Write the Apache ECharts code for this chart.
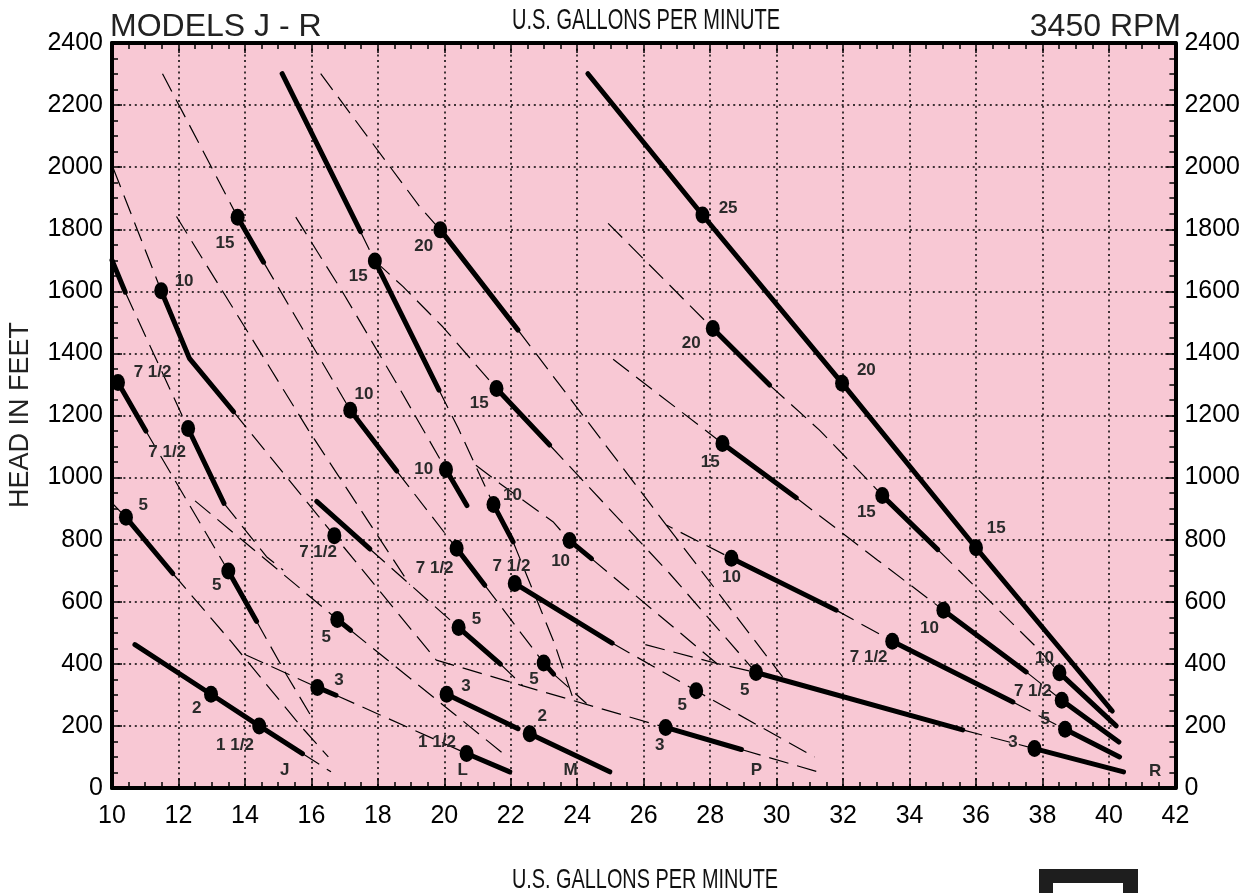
<!DOCTYPE html>
<html>
<head>
<meta charset="utf-8">
<script src="https://cdn.jsdelivr.net/npm/echarts@6/dist/echarts.min.js"></script>
<style>html,body{margin:0;padding:0;background:#fff;}#c{width:1243px;height:893px;}</style>
</head>
<body>
<div id="c"></div>
<script>
// ---- data ----
const xTicks = [10, 42, 2];        // min, max, step (U.S. gallons per minute)
const yTicks = [0, 2400, 200];     // min, max, step (head in feet)

// thick solid operating-range segments (polylines of [gpm, feet])
const thickLines = [
  [[10,1700],[10.4,1597]],
  [[13.78,1839],[14.56,1694]],
  [[11.48,1602],[12.33,1384],[13.66,1212]],
  [[10.18,1306],[11.02,1150]],
  [[12.29,1158],[13.37,917]],
  [[10.42,872],[11.83,691]],
  [[13.5,699],[14.35,537]],
  [[10.69,462],[12.98,302],[14.43,200],[15.73,111]],
  [[15.12,2301],[17.48,1792]],
  [[17.91,1698],[19.84,1282]],
  [[17.17,1217],[18.57,1021]],
  [[16.16,923],[17.76,770]],
  [[16.78,543],[17.18,508]],
  [[16.18,324],[16.74,299]],
  [[19.88,1798],[22.22,1475]],
  [[21.57,1287],[23.17,1105]],
  [[20.05,1026],[20.68,910]],
  [[21.48,913],[22.07,793]],
  [[23.77,797],[24.43,739]],
  [[20.37,772],[21.22,653]],
  [[22.12,659],[25.05,467]],
  [[20.43,517],[21.69,399]],
  [[22.99,403],[23.29,367]],
  [[20.07,302],[22.22,191]],
  [[22.57,175],[24.98,52]],
  [[20.67,111],[21.97,52]],
  [[24.32,2301],[27.77,1846],[31.97,1304],[36.0,774],[40.1,248]],
  [[28.08,1480],[29.79,1298]],
  [[28.37,1110],[30.59,935]],
  [[28.64,740],[31.79,573]],
  [[29.38,372],[35.6,187]],
  [[26.66,195],[28.94,124]],
  [[33.18,942],[34.85,768]],
  [[35.02,573],[37.51,374]],
  [[33.48,473],[37.11,277]],
  [[38.51,371],[40.22,200]],
  [[38.58,283],[40.3,148]],
  [[38.68,189],[40.32,100]],
  [[37.76,127],[40.44,52]]
];

// thin dashed curve extensions
const dashedLines = [
  [[10.04,1996],[11.48,1602]],
  [[11.52,2301],[13.78,1839]],
  [[11.94,1841],[15.91,1153],[18.96,655]],
  [[14.56,1694],[17.17,1217]],
  [[13.66,1212],[16.69,813],[19.76,412],[22.37,329],[26.66,195]],
  [[11.02,1150],[13.5,699]],
  [[10.4,1597],[12.29,1158]],
  [[12.5,925],[14.41,755],[16.78,543]],
  [[13.37,917],[14.65,745],[15.15,702]],
  [[11.83,691],[13.55,476],[15.7,197],[16.51,100]],
  [[14.35,537],[15.25,365],[16.0,230]],
  [[14.0,430],[16.18,324]],
  [[16.74,299],[20.67,111]],
  [[15.73,111],[16.59,52]],
  [[17.76,770],[20.43,517]],
  [[17.18,508],[21.9,100]],
  [[16.28,2301],[19.26,1873],[19.88,1798]],
  [[17.48,1792],[17.91,1698]],
  [[15.53,1839],[16.96,1594],[18.62,1293],[20.05,1026]],
  [[17.91,1698],[18.76,1615],[19.96,1485],[21.57,1287]],
  [[19.84,1282],[20.42,1159],[21.48,913]],
  [[18.57,1021],[20.37,772]],
  [[20.95,1040],[21.67,981],[23.27,858],[23.77,797]],
  [[22.22,1475],[26.68,847],[28.64,740]],
  [[23.17,1105],[26.78,691],[29.38,372]],
  [[26.68,847],[30.18,358]],
  [[24.93,1819],[28.08,1480]],
  [[25.08,1381],[28.37,1110]],
  [[29.79,1298],[31.29,1153],[32.8,986],[33.18,942]],
  [[30.59,935],[33.04,734],[35.02,573]],
  [[34.85,768],[37.86,449],[38.51,371]],
  [[37.51,374],[38.58,283]],
  [[37.11,277],[38.68,189]],
  [[35.6,187],[37.76,127]],
  [[31.79,573],[33.48,473]],
  [[25.05,467],[27.58,313],[31.14,100]],
  [[28.94,124],[31.24,52]],
  [[22.07,793],[23.3,470],[23.87,290]],
  [[21.22,653],[22.99,403]],
  [[23.29,367],[24.28,272]],
  [[21.69,399],[22.37,329]],
  [[26.05,462],[28.2,401],[29.38,372]],
  [[24.43,739],[28.2,401]],
  [[10.0,918],[10.42,872]]
];

// rated points (dots)
const dotPoints = [
  [13.78,1839],[11.48,1602],[10.18,1306],[12.29,1158],[10.42,872],[13.5,699],[12.98,302],[14.43,200],
  [17.91,1698],[17.17,1217],[16.69,813],[16.78,543],[16.18,324],
  [19.88,1798],[21.57,1287],[20.05,1026],[21.48,913],[23.77,797],[20.37,772],[22.12,659],[20.43,517],[22.99,403],[20.07,302],[22.57,175],[20.67,111],
  [27.77,1846],[28.08,1480],[31.97,1304],[28.37,1110],[36.0,774],[33.18,942],[28.64,740],[35.02,573],[33.48,473],[29.38,372],[27.58,313],[26.66,195],
  [38.51,371],[38.58,283],[38.68,189],[37.76,127]
];

// horsepower labels [gpm, feet, text]
const hpLabels = [
  [13.4,1755,'15'],[12.17,1631,'10'],[11.22,1338,'7 1/2'],[11.66,1083,'7 1/2'],[10.94,911,'5'],[13.15,653,'5'],[12.55,256,'2'],[13.7,138,'1 1/2'],
  [17.41,1647,'15'],[17.58,1269,'10'],[16.2,758,'7 1/2'],[16.45,486,'5'],[16.83,347,'3'],
  [19.38,1744,'20'],[21.05,1239,'15'],[19.38,1026,'10'],[22.05,943,'10'],[23.5,729,'10'],[19.71,707,'7 1/2'],[22.02,715,'7 1/2'],[20.97,543,'5'],[22.7,349,'5'],[20.65,329,'3'],[22.95,231,'2'],[19.78,148,'1 1/2'],
  [28.54,1868,'25'],[27.43,1433,'20'],[28.0,1048,'15'],[28.64,680,'10'],[29.04,315,'5'],[27.16,267,'5'],[26.48,138,'3'],
  [32.7,1344,'20'],[36.61,836,'15'],[32.7,887,'15'],[34.6,514,'10'],[32.77,420,'7 1/2'],[38.06,417,'10'],[37.71,313,'7 1/2'],[38.08,220,'5'],[37.11,148,'3']
];

// model letters
const modelLabels = [[15.2,57,'J'],[20.55,57,'L'],[23.8,57,'M'],[29.39,57,'P'],[41.39,55,'R']];

// ---- chart ----
const narrow = "'Liberation Sans Narrow','Arial Narrow','Liberation Sans',Arial,sans-serif";
const sans = "'Liberation Sans',Arial,Helvetica,sans-serif";

function axisCommon(isX, pos, showLabel, showSplit) {
  const r = isX ? xTicks : yTicks;
  return {
    type: 'value', min: r[0], max: r[1], interval: r[2], position: pos,
    axisLine: { show: true, onZero: false, lineStyle: { color: '#000', width: 4 } },
    axisTick: { show: true, inside: true, length: 10, lineStyle: { color: '#000', width: 1.5 } },
    minorTick: { show: true, splitNumber: 4, length: 6, lineStyle: { color: '#000', width: 1.5 } },
    axisLabel: { show: showLabel, fontFamily: narrow, fontSize: 25, color: '#000', margin: isX ? 16 : 9,
                 formatter: v => String(v) },
    splitLine: { show: showSplit, lineStyle: { color: '#000', width: 1.5, type: [2, 3.7] } },
    minorSplitLine: { show: false }
  };
}

const series = [];
dashedLines.forEach(pts => series.push({
  type: 'line', data: pts, symbol: 'none', silent: true, z: 2,
  lineStyle: { color: '#000', width: 1.2, type: [20, 9] }
}));
thickLines.forEach(pts => series.push({
  type: 'line', data: pts, symbol: 'none', silent: true, z: 3,
  lineStyle: { color: '#000', width: 5, cap: 'round', join: 'round' }
}));
series.push({
  type: 'scatter', data: dotPoints, symbol: 'circle', symbolSize: [14, 17], silent: true, z: 4,
  itemStyle: { color: '#000', opacity: 1 }
});
series.push({
  type: 'scatter', silent: true, z: 5, symbol: 'rect', symbolSize: 1,
  itemStyle: { color: 'rgba(0,0,0,0)', opacity: 1 },
  data: hpLabels.concat(modelLabels).map(d => ({ value: [d[0], d[1]], name: d[2] })),
  label: { show: true, position: 'inside', formatter: '{b}', fontFamily: sans, fontWeight: 'bold', fontSize: 17, color: '#2a2a2a', opacity: 1 }
});

const chart = echarts.init(document.getElementById('c'), null, { renderer: 'canvas' });
chart.setOption({
  animation: false,
  backgroundColor: '#ffffff',
  grid: { left: 112, right: 67, top: 43, bottom: 105, show: true, backgroundColor: '#F8C8D4', borderWidth: 0 },
  xAxis: [axisCommon(true, 'bottom', true, true), axisCommon(true, 'top', false, false)],
  yAxis: [axisCommon(false, 'left', true, true), axisCommon(false, 'right', true, false)],
  series: series,
  graphic: [
    { type: 'text', x: 110, y: 27, style: { text: 'MODELS J - R', font: '32px ' + sans, fill: '#222', align: 'left', verticalAlign: 'middle' } },
    { type: 'text', x: 1181, y: 27, style: { text: '3450 RPM', font: '32px ' + sans, fill: '#222', align: 'right', verticalAlign: 'middle' } },
    { type: 'text', x: 646, y: 21, scaleX: 0.69, style: { text: 'U.S. GALLONS PER MINUTE', font: '29px ' + sans, fill: '#111', align: 'center', verticalAlign: 'middle' } },
    { type: 'text', x: 645, y: 880, scaleX: 0.71, style: { text: 'U.S. GALLONS PER MINUTE', font: '28px ' + sans, fill: '#111', align: 'center', verticalAlign: 'middle' } },
    { type: 'text', x: 21, y: 415, rotation: Math.PI / 2, style: { text: 'HEAD IN FEET', font: '27px ' + sans, fill: '#222', align: 'center', verticalAlign: 'middle' } },
    { type: 'rect', shape: { x: 1039, y: 869, width: 99, height: 40 }, style: { fill: '#1e1e1e' } },
    { type: 'rect', shape: { x: 1053, y: 883, width: 70, height: 30 }, style: { fill: '#ffffff' } }
  ]
});
</script>
</body>
</html>
